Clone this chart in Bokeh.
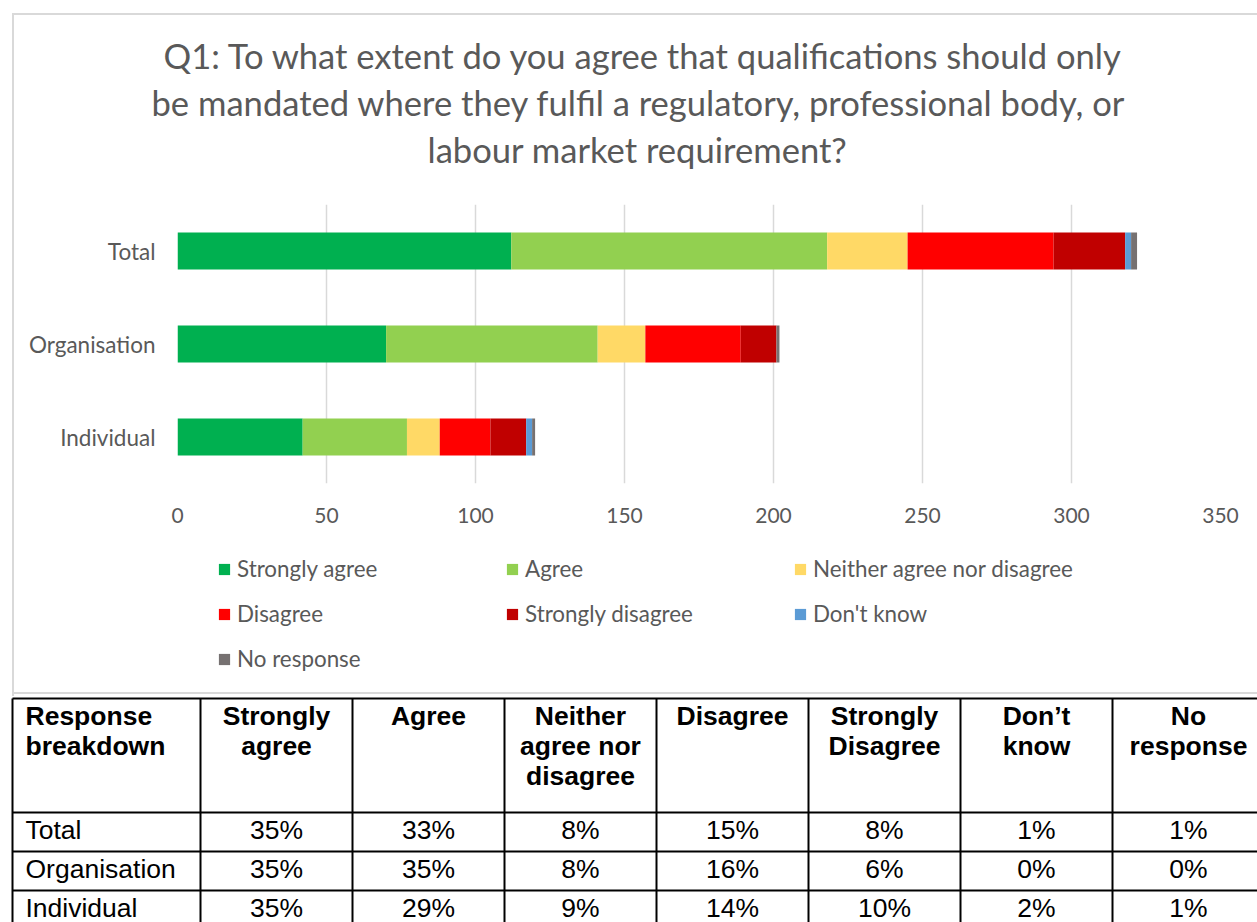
from bokeh.plotting import figure
from bokeh.models import (FactorRange, Range1d, Legend, LegendItem, FixedTicker, ColumnDataSource, Title)
from bokeh.layouts import column
from bokeh.embed import file_html
from bokeh.resources import INLINE
from bokeh.core.properties import value

# ---------------- data ----------------
categories = ["Total", "Organisation", "Individual"]
responses = ["Strongly agree", "Agree", "Neither agree nor disagree", "Disagree",
             "Strongly disagree", "Don't know", "No response"]
strongly_agree = [112, 70, 42]
agree = [106, 71, 35]
neither = [27, 16, 11]
disagree = [49, 32, 17]
strongly_disagree = [24, 12, 12]
dont_know = [2, 0, 2]
no_response = [2, 1, 1]
colors = ["#00B050", "#92D050", "#FFD966", "#FF0000", "#C00000", "#5B9BD5", "#767171"]
x_ticks = [0, 50, 100, 150, 200, 250, 300, 350]

title_lines = ["Q1: To what extent do you agree that qualifications should only",
               "be mandated where they fulfil a regulatory, professional body, or",
               "labour market requirement?"]

table_header = ["Response\nbreakdown", "Strongly\nagree", "Agree", "Neither\nagree nor\ndisagree",
                "Disagree", "Strongly\nDisagree", "Don\u2019t\nknow", "No\nresponse"]
table_rows = ["Total", "Organisation", "Individual"]
pct_total = ["35%", "33%", "8%", "15%", "8%", "1%", "1%"]
pct_organisation = ["35%", "35%", "8%", "16%", "6%", "0%", "0%"]
pct_individual = ["35%", "29%", "9%", "14%", "10%", "2%", "1%"]

# ---------------- layout constants (page px) ----------------
W = 1257
H1 = 545          # chart part (title, bars, axis)
H_LEG = 696 - H1  # legend part
FRAME_L, FRAME_R, FRAME_T, FRAME_B = 177, 1220, 204, 483
GRAY = "#595959"
FONT = "Lato"
g = "linear-gradient(#d9d9d9, #d9d9d9)"

# ---------------- chart ----------------
p = figure(width=W, height=H1, y_range=FactorRange(*categories[::-1]),
           x_range=Range1d(0, 350), output_backend="svg", toolbar_location=None,
           min_border_left=FRAME_L, min_border_right=W - FRAME_R,
           min_border_top=FRAME_T, min_border_bottom=H1 - FRAME_B,
           title=title_lines[0])
p.frame_align = False
p.border_fill_alpha = 0
p.background_fill_alpha = 0
p.styles = {
    "background-color": "white",
    "background-image": ", ".join([g, g]),
    "background-size": f"2px {H1 - 13}px, 1245px 2px",
    "background-position": "12px 13px, 12px 13px",
    "background-repeat": "no-repeat",
}


def style_title(tt, left, standoff):
    tt.align = "left"
    tt.offset = left - FRAME_L
    tt.text_font = FONT
    tt.text_font_style = "normal"
    tt.text_font_size = "34.6px"
    tt.text_color = GRAY
    tt.standoff = standoff


# gap between the title block and the plot area
gap = Title(text=" ", text_font_size="1px", standoff=30)
p.add_layout(gap, "above")
# outermost line is the figure's own title; nearer lines are added closest-first
style_title(p.title, 163, 4)
t3 = Title(text=title_lines[2]); style_title(t3, 427, 4); p.add_layout(t3, "above")
t2 = Title(text=title_lines[1]); style_title(t2, 151, 4); p.add_layout(t2, "above")

series = [strongly_agree, agree, neither, disagree, strongly_disagree, dont_know, no_response]
src = ColumnDataSource(dict(cat=categories, **{r: s for r, s in zip(responses, series)}))
rends = p.hbar_stack(responses, y="cat", height=0.4, color=colors, source=src, line_color=None)

p.xaxis.ticker = FixedTicker(ticks=x_ticks)
for ax in (p.xaxis, p.yaxis):
    ax.axis_line_color = None
    ax.major_tick_line_color = None
    ax.minor_tick_line_color = None
    ax.major_tick_out = 0
    ax.major_tick_in = 0
    ax.major_label_text_font = FONT
    ax.major_label_text_color = GRAY
p.xaxis.major_label_text_font_size = "21px"
p.yaxis.major_label_text_font_size = "22.5px"
p.xaxis.major_label_standoff = 24
p.yaxis.major_label_standoff = 22

p.ygrid.grid_line_color = None
p.xgrid.grid_line_color = "#d9d9d9"
p.xgrid.grid_line_width = 1.5
p.outline_line_color = None

# ---------------- legend (own strip, same series, bars kept out of view) ----------------
lg = figure(width=W, height=H_LEG, x_range=Range1d(-2, -1), y_range=FactorRange(*categories[::-1]),
            output_backend="svg", toolbar_location=None, min_border=0,
            x_axis_type=None, y_axis_type=None)
lg.frame_align = False
lg.grid.visible = False
lg.outline_line_color = None
lg.border_fill_alpha = 0
lg.background_fill_alpha = 0
lg.styles = {
    "background-color": "white",
    "background-image": ", ".join([g, g]),
    "background-size": f"2px {H_LEG}px, 1245px 2px",
    "background-position": f"12px 0px, 12px {H_LEG - 4}px",
    "background-repeat": "no-repeat",
}
leg_rends = lg.hbar_stack(responses, y="cat", height=0.4, color=colors, source=src, line_color=None)
legend = Legend(items=[LegendItem(label=r, renderers=[rd], index=0) for r, rd in zip(responses, leg_rends)],
                orientation="horizontal", ncols=3, location=(217, 24),
                glyph_width=14, glyph_height=14, label_width=250, label_standoff=6,
                spacing=18, padding=0, margin=0, border_line_color=None,
                background_fill_alpha=0, label_text_font=FONT,
                label_text_font_size="22.4px", label_text_color=GRAY)
lg.add_layout(legend, "center")

# ---------------- table ----------------
Y0 = H1 + H_LEG
H2 = 922 - Y0
t = figure(width=W, height=H2, x_range=Range1d(0, W), y_range=Range1d(Y0 + H2, Y0),
           output_backend="svg", toolbar_location=None, min_border=0,
           x_axis_type=None, y_axis_type=None)
t.frame_align = False
t.grid.visible = False
t.outline_line_color = None

col_edges = [12, 200] + [200 + 152.0 * k for k in range(1, 8)]
row_edges = [698, 812, 851, 890, 929]
t.segment(x0=col_edges, x1=col_edges, y0=[row_edges[0]] * len(col_edges),
          y1=[row_edges[-1]] * len(col_edges), line_color="black", line_width=2)
t.segment(x0=[col_edges[0]] * len(row_edges), x1=[col_edges[-1]] * len(row_edges),
          y0=row_edges, y1=row_edges, line_color="black", line_width=2)

TFONT = value("Liberation Sans")
TSIZE = "26.5px"
hx, hy, ht, ha = [], [], [], []
for j, h in enumerate(table_header):
    for i, ln in enumerate(h.split("\n")):
        if j == 0:
            hx.append(25); ha.append("left")
        else:
            hx.append((col_edges[j] + col_edges[j + 1]) / 2); ha.append("center")
        hy.append(715 + 30 * i)
        ht.append(ln)
t.text(x=hx, y=hy, text=ht, text_align=ha, text_baseline="alphabetic",
       text_font=TFONT, text_font_style="bold", text_font_size=TSIZE, text_color="black")

bx, by, bt, ba = [], [], [], []
for r, (name, vals) in enumerate(zip(table_rows, [pct_total, pct_organisation, pct_individual])):
    base = 829 + 39 * r
    bx.append(25); by.append(base); bt.append(name); ba.append("left")
    for j, v in enumerate(vals):
        bx.append((col_edges[j + 1] + col_edges[j + 2]) / 2); by.append(base); bt.append(v); ba.append("center")
t.text(x=bx, y=by, text=bt, text_align=ba, text_baseline="alphabetic",
       text_font=TFONT, text_font_size=TSIZE, text_color="black")

layout = column(p, lg, t, spacing=0)
open("out.html", "w").write(file_html(layout, INLINE))
